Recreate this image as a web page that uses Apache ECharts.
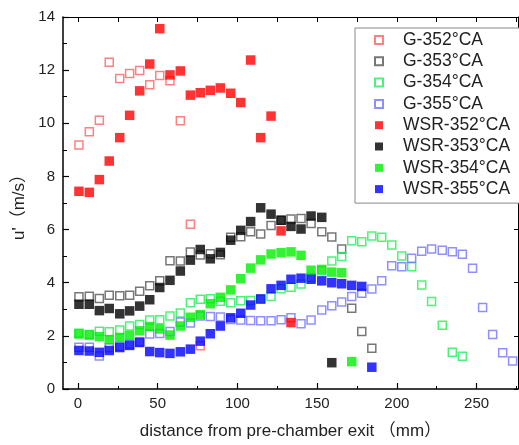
<!DOCTYPE html>
<html>
<head>
<meta charset="utf-8">
<script src="https://cdn.jsdelivr.net/npm/echarts@6/dist/echarts.min.js"></script>
<style>
  html, body { margin: 0; padding: 0; background: #fff; }
  #chart { width: 519px; height: 445px; }
</style>
</head>
<body>
<div id="chart"></div>
<script>
// Measurement stations along the jet (mm from pre-chamber exit)
const distances = [0.6, 7.1, 13.4, 19.6, 26.2, 32.4, 38.7, 45.0, 51.3, 57.7,
  64.2, 70.5, 76.7, 83.0, 89.3, 95.8, 102.1, 108.3, 114.6, 121.1,
  127.4, 133.6, 139.9, 146.2, 152.9, 159.2, 165.4, 171.7, 178.0, 184.3,
  190.5, 196.8, 203.1, 209.3, 215.6, 221.8, 228.5, 234.8, 241.1, 247.5,
  253.8, 260.1, 266.4, 272.6];

// Turbulent fluctuation u' (m/s), one array per case
const g352 = [9.18, 9.68, 10.11, 12.3, 11.69, 11.87, 11.99, 11.45, 11.8, 11.6, 10.1, 6.2, 1.63];
const g353 = [3.47, 3.49, 3.41, 3.53, 3.51, 3.53, 3.68, 3.89, 4.07, 4.83,
  4.82, 5.16, 5.04, 5.09, 5.05, 5.71, 5.73, 5.92, 5.83, 6.15,
  6.35, 6.4, 6.42, 6.23, 5.92, 5.72, 5.27, 3.04, 2.16, 1.53];
const g354 = [2.1, 2.05, 2.17, 2.15, 2.22, 2.37, 2.43, 2.6, 2.61, 2.75,
  2.86, 3.25, 3.38, 3.4, 3.3, 3.25, 3.32, 3.33, 3.38, 3.48,
  3.77, 3.83, 3.95, 4.2, 4.45, 4.82, 4.99, 5.58, 5.54, 5.76,
  5.71, 5.42, 5.01, 4.6, 3.91, 3.29, 2.4, 1.38, 1.23];
const g355 = [1.57, 1.57, 1.24, 1.55, 1.6, 1.68, 1.78, 2.07, 2.09, 2.16,
  2.52, 2.48, 2.75, 2.73, 2.71, 2.62, 2.6, 2.58, 2.57, 2.57,
  2.61, 2.68, 2.46, 2.6, 2.97, 3.13, 3.27, 3.48, 3.6, 3.76,
  4.07, 4.64, 4.6, 4.92, 5.18, 5.27, 5.22, 5.17, 5.07, 4.54,
  3.07, 2.05, 1.36, 1.05];
const wsr352 = [7.44, 7.40, 7.88, 8.58, 9.46, 10.3, 11.22, 12.23, 13.56, 11.82,
  11.97, 11.06, 11.15, 11.24, 11.33, 11.13, 10.78, 12.38, 9.46, 10.27,
  5.95, 2.5];
const wsr353 = [3.19, 3.19, 2.95, 3.03, 2.83, 2.94, 3.12, 3.36, 3.82, 4.09,
  4.44, 4.85, 5.25, 4.9, 5.14, 5.6, 5.97, 6.3, 6.82, 6.58,
  6.35, 6.12, 6.02, 6.51, 6.46, 0.99];
const wsr354 = [2.07, 2.03, 1.97, 1.86, 1.94, 2.02, 2.19, 2.35, 2.26, 2.03,
  2.37, 2.70, 2.80, 3.21, 3.45, 3.73, 4.15, 4.55, 4.86, 5.08,
  5.13, 5.16, 5.03, 4.47, 4.5, 4.4, 4.38, 1.03];
const wsr355 = [1.45, 1.43, 1.38, 1.45, 1.56, 1.64, 1.75, 1.41, 1.37, 1.34,
  1.4, 1.5, 1.8, 2.08, 2.37, 2.68, 2.85, 3.16, 3.39, 3.77,
  3.9, 4.13, 4.17, 4.13, 4.07, 4.0, 3.96, 3.9, 3.86, 0.82];

const xLabelValues = [0, 50, 100, 150, 200, 250];
const xMinorValues = [25, 75, 125, 175, 225, 275];
const xTopTickValues = [0, 25, 50, 75, 100, 125, 150, 175, 200, 225, 250, 275];

const FONT = '"Liberation Sans", Arial, "Noto Sans CJK SC", sans-serif';
const TXT = '#222';

function pairs(vals) {
  return vals.map((v, i) => [distances[i], v]);
}

function openSeries(name, vals, color) {
  return {
    name, type: 'scatter', data: pairs(vals),
    symbol: 'rect', symbolSize: 8,
    itemStyle: { color: 'rgba(255,255,255,0)', borderColor: color, borderWidth: 1.5 },
    emphasis: { disabled: true }, z: 2
  };
}
function filledSeries(name, vals, color) {
  return {
    name, type: 'scatter', data: pairs(vals),
    symbol: 'rect', symbolSize: 9.5,
    itemStyle: { color: color },
    emphasis: { disabled: true }, z: 3
  };
}

const chart = echarts.init(document.getElementById('chart'), null, { renderer: 'canvas' });

const axisMin = -9.4, axisMax = 276;

chart.setOption({
  animation: false,
  backgroundColor: '#fff',
  textStyle: { fontFamily: FONT },
  grid: { left: 63, top: 17, width: 455, height: 372, containLabel: false },
  legend: {
    orient: 'vertical',
    left: 355, top: 28,
    padding: [3, 10, 5, 19],
    itemGap: 3.3,
    itemWidth: 8, itemHeight: 8,
    borderColor: '#888', borderWidth: 1,
    backgroundColor: '#fff',
    textStyle: { fontSize: 17.5, lineHeight: 18, color: TXT, fontFamily: FONT,
                 padding: [0, 0, 0, 15] },
    data: ['G-352°CA', 'G-353°CA', 'G-354°CA', 'G-355°CA',
           'WSR-352°CA', 'WSR-353°CA', 'WSR-354°CA', 'WSR-355°CA']
  },
  xAxis: [
    {
      type: 'value', position: 'bottom', min: axisMin, max: axisMax,
      axisLine: { show: true, onZero: false, lineStyle: { color: '#000', width: 1.5 } },
      axisTick: { show: true, inside: true, length: 6, customValues: xLabelValues,
                  lineStyle: { color: '#000', width: 1.2 } },
      axisLabel: { customValues: xLabelValues, margin: 7, fontSize: 15, color: TXT, fontFamily: FONT },
      splitLine: { show: false },
      name: 'distance from pre-chamber exit （mm）',
      nameLocation: 'middle', nameGap: 34,
      nameTextStyle: { fontSize: 17, color: TXT, fontFamily: FONT }
    },
    {
      type: 'value', position: 'top', min: axisMin, max: axisMax,
      axisLine: { show: true, onZero: false, lineStyle: { color: '#000', width: 1 } },
      axisTick: { show: true, inside: true, length: 5, customValues: xTopTickValues,
                  lineStyle: { color: '#000', width: 1 } },
      axisLabel: { show: false },
      splitLine: { show: false }
    },
    {
      type: 'value', position: 'bottom', min: axisMin, max: axisMax,
      axisLine: { show: false },
      axisTick: { show: true, inside: true, length: 3, customValues: xMinorValues,
                  lineStyle: { color: '#000', width: 1 } },
      axisLabel: { show: false },
      splitLine: { show: false }
    }
  ],
  yAxis: [
    {
      type: 'value', position: 'left', min: 0, max: 14, interval: 2,
      axisLine: { show: true, onZero: false, lineStyle: { color: '#000', width: 1.5 } },
      axisTick: { show: true, inside: true, length: 6, lineStyle: { color: '#000', width: 1.2 } },
      minorTick: { show: true, splitNumber: 2, length: 4, lineStyle: { color: '#000', width: 1 } },
      axisLabel: { margin: 8, fontSize: 15, color: TXT, fontFamily: FONT },
      splitLine: { show: false },
      name: "u'（m/s）",
      nameLocation: 'middle', nameGap: 22, nameRotate: 90,
      nameTextStyle: { fontSize: 17, color: TXT, fontFamily: FONT }
    },
    {
      type: 'value', position: 'right', min: 0, max: 14, interval: 2,
      axisLine: { show: true, onZero: false, lineStyle: { color: '#000', width: 1 } },
      axisTick: { show: true, inside: true, length: 4, lineStyle: { color: '#000', width: 1 } },
      axisLabel: { show: false },
      splitLine: { show: false }
    }
  ],
  series: [
    openSeries('G-352°CA', g352, '#ff6060'),
    openSeries('G-353°CA', g353, '#555555'),
    openSeries('G-354°CA', g354, '#22ee55'),
    openSeries('G-355°CA', g355, '#7373ff'),
    filledSeries('WSR-352°CA', wsr352, '#ff0000'),
    filledSeries('WSR-353°CA', wsr353, '#000000'),
    filledSeries('WSR-354°CA', wsr354, '#00ee00'),
    filledSeries('WSR-355°CA', wsr355, '#0000ff')
  ]
});
</script>
</body>
</html>
